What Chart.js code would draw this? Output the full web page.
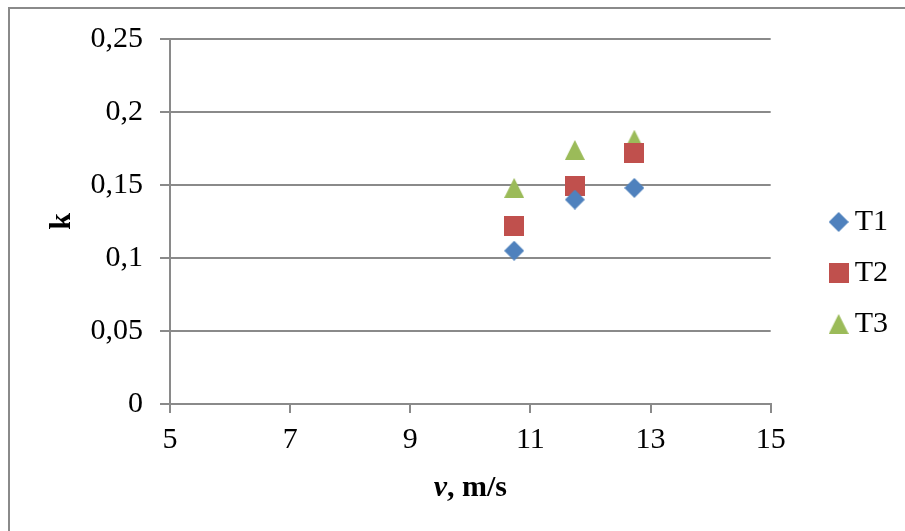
<!DOCTYPE html>
<html>
<head>
  <meta charset="utf-8" />
  <title>k vs v</title>
  <script src="https://cdn.jsdelivr.net/npm/chart.js"></script>
  <style>
    html, body { margin: 0; padding: 0; background: #fff; overflow: hidden; }
    #frame {
      position: absolute; left: 8px; top: 7px; width: 960px; height: 600px;
      border-left: 2px solid #8a8a8a; border-top: 2px solid #8a8a8a;
    }
    #wrap { position: absolute; left: 0; top: 0; width: 905px; height: 531px; }
  </style>
</head>
<body>
  <div id="frame"></div>
  <div id="wrap"><canvas id="kChart" width="905" height="531"></canvas></div>

  <script>
    // values
    const seriesNames = ['T1', 'T2', 'T3'];
    const speeds = [10.73, 11.74, 12.73];          // v, m/s
    const kT1 = [0.105, 0.140, 0.148];
    const kT2 = [0.122, 0.149, 0.172];
    const kT3 = [0.148, 0.174, 0.181];
    const yTicks = [0, 0.05, 0.1, 0.15, 0.2, 0.25];
    const xTicks = [5, 7, 9, 11, 13, 15];

    const colors = ['#4F81BD', '#C0504D', '#9BBB59'];
    const FONT = '"Liberation Serif", "Times New Roman", serif';

    // Excel-like 20x20 markers
    function marker(shape, color) {
      const c = document.createElement('canvas');
      c.width = 20; c.height = 20;
      const g = c.getContext('2d');
      g.fillStyle = color;
      g.beginPath();
      if (shape === 'diamond') {
        g.moveTo(10, 0); g.lineTo(20, 10); g.lineTo(10, 20); g.lineTo(0, 10);
      } else if (shape === 'square') {
        g.rect(0, 0, 20, 20);
      } else {
        g.moveTo(10, 0); g.lineTo(20, 20); g.lineTo(0, 20);
      }
      g.closePath();
      g.fill();
      return c;
    }
    const markers = [
      marker('diamond', colors[0]),
      marker('square', colors[1]),
      marker('triangle', colors[2])
    ];

    const allK = [kT1, kT2, kT3];
    const datasets = seriesNames.map((name, i) => ({
      label: name,
      data: speeds.map((v, j) => ({ x: v, y: allK[i][j] })),
      pointStyle: markers[i],
      backgroundColor: colors[i],
      borderColor: colors[i],
      showLine: false
    }));

    // x-axis title with italic "v"
    const xTitle = {
      id: 'xTitle',
      afterDraw(chart) {
        const { ctx, chartArea } = chart;
        const cx = (chartArea.left + chartArea.right) / 2;
        const y = 496;
        ctx.save();
        ctx.fillStyle = '#000';
        ctx.textBaseline = 'alphabetic';
        const f1 = 'italic bold 30px ' + FONT;
        const f2 = 'bold 30px ' + FONT;
        ctx.font = f1; const w1 = ctx.measureText('v').width;
        ctx.font = f2; const w2 = ctx.measureText(', m/s').width;
        let x = cx - (w1 + w2) / 2;
        ctx.font = f1; ctx.textAlign = 'left'; ctx.fillText('v', x, y);
        ctx.font = f2; ctx.fillText(', m/s', x + w1, y);
        ctx.restore();
      }
    };

    // nudge the legend box into the right margin, like Excel
    const legendShift = {
      id: 'legendShift',
      afterLayout(chart) {
        const L = chart.legend;
        if (!L) return;
        const dx = 46, dy = -12;
        L.left += dx; L.right += dx;
        L.top += dy; L.bottom += dy;
      }
    };

    const fmt = v => String(Math.round(v * 100) / 100).replace('.', ',');

    new Chart(document.getElementById('kChart').getContext('2d'), {
      type: 'scatter',
      data: { datasets },
      plugins: [xTitle, legendShift],
      options: {
        responsive: false,
        animation: false,
        devicePixelRatio: 1,
        layout: { padding: { top: 39, right: 53, bottom: 0, left: 0 } },
        plugins: {
          legend: {
            position: 'right',
            labels: {
              usePointStyle: true,
              boxWidth: 2,
              boxHeight: 20,
              padding: 21,
              color: '#000',
              font: { family: FONT, size: 30 }
            }
          },
          tooltip: { enabled: false }
        },
        scales: {
          x: {
            type: 'linear',
            min: 5, max: 15,
            afterBuildTicks: s => { s.ticks = xTicks.map(v => ({ value: v })); },
            afterFit: s => { s.height = 531 - 404; },
            border: { color: '#8a8a8a', width: 2 },
            grid: { drawOnChartArea: false, drawTicks: true, tickLength: 9, color: '#8a8a8a', lineWidth: 2 },
            ticks: { color: '#000', padding: 9, maxRotation: 0, font: { family: FONT, size: 30 } }
          },
          y: {
            min: 0, max: 0.25,
            afterBuildTicks: s => { s.ticks = yTicks.map(v => ({ value: v })); },
            afterFit: s => { s.width = 170; },
            border: { color: '#8a8a8a', width: 2 },
            grid: { color: '#8a8a8a', lineWidth: 2, tickLength: 10 },
            title: {
              display: true, text: 'k', color: '#000',
              padding: { top: 44, bottom: 0 },
              font: { family: FONT, size: 30, weight: 'bold' }
            },
            ticks: {
              color: '#000', padding: 17,
              font: { family: FONT, size: 30 },
              callback: v => fmt(v)
            }
          }
        }
      }
    });
  </script>
</body>
</html>
